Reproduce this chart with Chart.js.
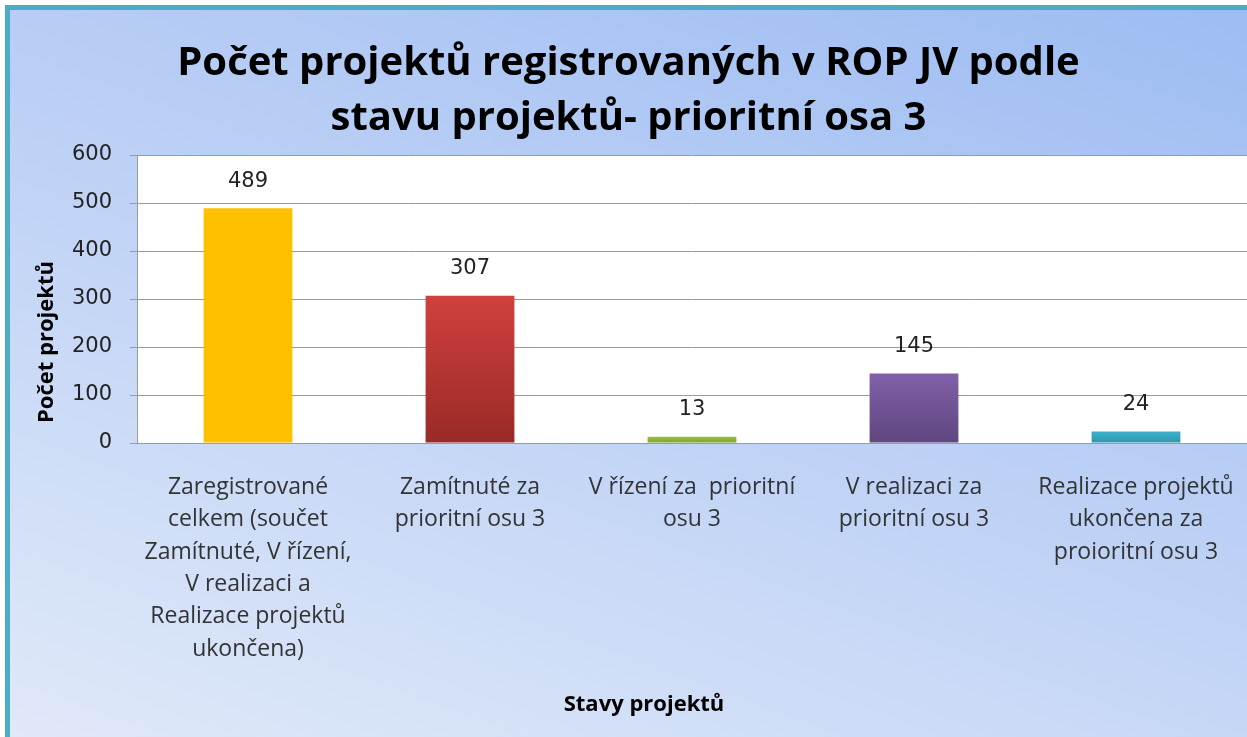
<!DOCTYPE html>
<html>
<head>
<meta charset="utf-8">
<script src="https://cdn.jsdelivr.net/npm/chart.js@4.4.1/dist/chart.umd.min.js"></script>
<style>
  html, body { margin: 0; padding: 0; overflow: hidden; background: #fff; }
  #wrap {
    position: absolute; left: 5px; top: 5px; width: 1260px; height: 760px;
    border-left: 5px solid #4bacc6; border-top: 5px solid #4bacc6;
    background: linear-gradient(20deg, #e1eaf9 0%, #c3d5f6 45%, #9dbcf2 100%);
  }
  #chart { position: absolute; left: 0; top: 0; }
</style>
</head>
<body>
<div id="wrap"><canvas id="chart" width="1237" height="727"></canvas></div>
<script>
// Chart data
const categories = [
  ['Zaregistrované', 'celkem (součet', 'Zamítnuté, V řízení,', 'V realizaci a', 'Realizace projektů', 'ukončena)'],
  ['Zamítnuté za', 'prioritní osu 3'],
  ['V řízení za  prioritní', 'osu 3'],
  ['V realizaci za', 'prioritní osu 3'],
  ['Realizace projektů', 'ukončena za', 'proioritní osu 3']
]
const values = [489, 307, 13, 145, 24]
const yTicks = [0, 100, 200, 300, 400, 500, 600]
const titleLines = ['Počet projektů registrovaných v ROP JV podle', 'stavu projektů- prioritní osa 3']
const yTitle = 'Počet projektů'
const xTitle = 'Stavy projektů'

// top / bottom colour of each bar
const barTop = ['#ffc000', '#d1403d', '#9cc23f', '#8160a8', '#3eb3cc']
const barBottom = ['#ffc000', '#982a27', '#7ea034', '#5f4680', '#2e97ae']

const textFont = "'Open Sans', 'DejaVu Sans', sans-serif"
const numFont = "'DejaVu Sans', sans-serif"

function barColor(ctx) {
  const chart = ctx.chart
  const y = chart.scales.y
  if (!y || ctx.type !== 'data') return barTop[ctx.dataIndex]
  const top = y.getPixelForValue(values[ctx.dataIndex])
  const bottom = y.getPixelForValue(0)
  if (!isFinite(top) || !isFinite(bottom) || bottom - top < 1) return barTop[ctx.dataIndex]
  const g = chart.ctx.createLinearGradient(0, top, 0, bottom)
  g.addColorStop(0, barTop[ctx.dataIndex])
  g.addColorStop(1, barBottom[ctx.dataIndex])
  return g
}

// white plot background
const plotBg = {
  id: 'plotBg',
  beforeDraw(chart) {
    const { ctx, chartArea: a } = chart
    ctx.save()
    ctx.fillStyle = '#ffffff'
    ctx.fillRect(a.left, a.top, a.right - a.left + 20, a.bottom - a.top)
    ctx.restore()
  }
}

// value labels above bars, axis titles
const extras = {
  id: 'extras',
  afterDatasetsDraw(chart) {
    const { ctx } = chart
    const meta = chart.getDatasetMeta(0)
    ctx.save()
    ctx.font = '21px ' + numFont
    ctx.fillStyle = '#222'
    ctx.textAlign = 'center'
    ctx.textBaseline = 'middle'
    meta.data.forEach((bar, i) => {
      ctx.fillText(String(values[i]), bar.x, bar.y - 27)
    })
    ctx.restore()
  },
  afterDraw(chart) {
    const { ctx } = chart
    ctx.save()
    ctx.font = 'bold 22px ' + textFont
    ctx.fillStyle = '#000'
    ctx.textAlign = 'center'
    ctx.textBaseline = 'middle'
    ctx.fillText(xTitle, 634, 695)
    ctx.translate(37, 332)
    ctx.rotate(-Math.PI / 2)
    ctx.fillText(yTitle, 0, 0)
    ctx.restore()
  }
}

new Chart(document.getElementById('chart'), {
  type: 'bar',
  data: {
    labels: categories,
    datasets: [{
      data: values,
      backgroundColor: barColor,
      borderWidth: 0,
      barPercentage: 0.4,
      categoryPercentage: 1
    }]
  },
  options: {
    responsive: false,
    animation: false,
    layout: { padding: { left: 0, right: 0, top: 26, bottom: 0 } },
    plugins: {
      legend: { display: false },
      tooltip: { enabled: false },
      title: {
        display: true,
        text: titleLines,
        color: '#000',
        font: { family: textFont, size: 40, weight: 'bold', lineHeight: 1.375 },
        padding: { top: 0, bottom: 9 }
      }
    },
    scales: {
      x: {
        grid: { display: false, drawTicks: false },
        border: { color: '#9a9a9a', width: 1 },
        ticks: {
          color: '#333',
          font: { family: textFont, size: 23, lineHeight: 1.41 },
          padding: 28,
          maxRotation: 0,
          autoSkip: false
        },
        afterFit(s) {
          s.height = 294
          // plot runs to the right edge, the last label may overflow
          s.paddingRight = 0
          s.paddingLeft = 0
        }
      },
      y: {
        min: 0,
        max: 600,
        afterBuildTicks(s) { s.ticks = yTicks.map(v => ({ value: v })) },
        grid: { color: '#9a9a9a', tickLength: 7, tickColor: '#9a9a9a' },
        border: { color: '#9a9a9a', width: 1 },
        ticks: {
          color: '#222',
          font: { family: numFont, size: 21 },
          padding: 18
        },
        afterFit(s) { s.width = 127 }
      }
    }
  },
  plugins: [plotBg, extras]
})
</script>
</body>
</html>
